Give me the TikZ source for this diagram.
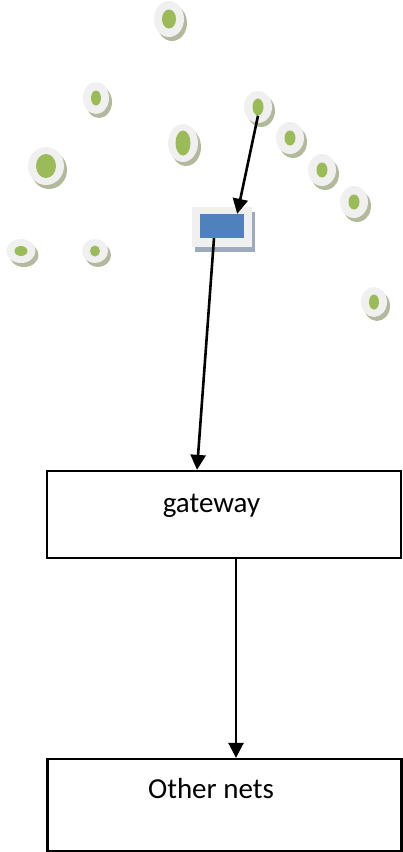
\documentclass[tikz,border=0pt]{standalone}
\usepackage{fontspec}
\setmainfont{Carlito}
\usetikzlibrary{shapes.geometric, shadows, arrows.meta}
\definecolor{leafgreen}{HTML}{9BBB59}
\definecolor{padgray}{HTML}{F0F0F0}
\definecolor{padshade}{HTML}{B3B99C}
\definecolor{sinkblue}{HTML}{4F81BD}
\definecolor{sinkshade}{HTML}{9DAAC0}

\begin{document}
\begin{tikzpicture}[x=1pt, y=-1pt, >={Triangle[width=15pt,length=15pt]},
  pad/.style={ellipse, fill=padgray, inner sep=0pt,
    drop shadow={shadow xshift=3pt, shadow yshift=-4pt, fill=padshade, opacity=1}},
  dot/.style={ellipse, fill=leafgreen, inner sep=0pt},
  netbox/.style={draw, line width=2.3pt, minimum width=354, minimum height=87, inner sep=0pt},
  boxtext/.style={font=\fontsize{29}{35}\selectfont, anchor=base},
  link/.style={->, line width=2.6pt}]

  \useasboundingbox (0,0) rectangle (403,852);

  % sensor field: name / centre / outer size / inner size
  \foreach \n/\x/\y/\ow/\oh/\iw/\ih in {
      s1/169/19/30/36/14/19,  s2/96/98/26/32/10/15,
      s3/46/166/36/38/20/24,  s4/183/143/30/38/15/25,
      s5/258/107/28/32/11/17, s6/290/138/28/32/11/15,
      s7/322/170/28/32/11/15, s8/354/202/28/32/11/15,
      s9/21/251/29/24/13/10,  s10/95/251/26/24/10/11,
      s11/374/302/26/30/10/15}
  {
    \node[pad, minimum width=\ow, minimum height=\oh] (\n) at (\x,\y) {};
    \node[dot, minimum width=\iw, minimum height=\ih] (\n-in) at (\x,\y) {};
  }

  % sink
  \node[fill=padgray, minimum width=60, minimum height=40, inner sep=0pt,
    drop shadow={shadow xshift=3pt, shadow yshift=-5pt, fill=sinkshade, opacity=1}] (sink) at (222,227) {};
  \node[fill=sinkblue, minimum width=44, minimum height=24, inner sep=0pt] (sinkcore) at (222,226) {};

  \node[netbox] (gw) at (224,514.5) {};
  \node[boxtext] (gwtext) at (211.5,512) {gateway};
  \node[netbox, minimum height=92] (other) at (224.5,805) {};
  \node[boxtext] (othertext) at (211,798) {Other nets};

  \draw[link] (s5-in.south) -- ([xshift=-7]sinkcore.north east);
  \draw[link] ([xshift=-8]sinkcore.south) -- ([xshift=-27]gw.north);
  \draw[link] ([xshift=12]gw.south) -- ([xshift=11.5]other.north);
\end{tikzpicture}
\end{document}
